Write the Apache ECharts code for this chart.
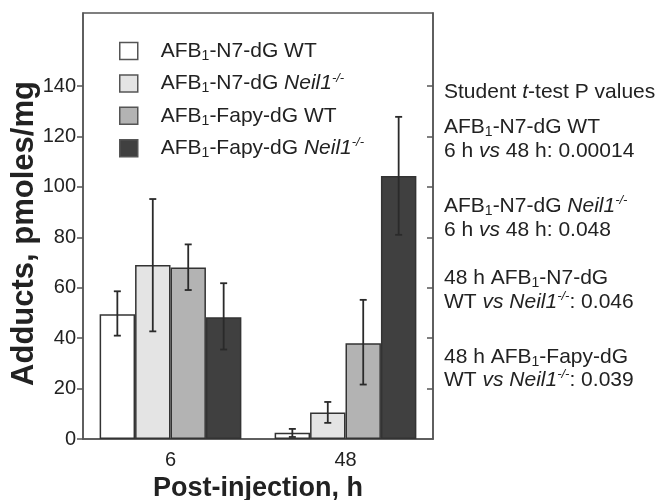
<!DOCTYPE html>
<html>
<head>
<meta charset="utf-8">
<script src="https://cdn.jsdelivr.net/npm/echarts@6/dist/echarts.min.js"></script>
<style>html,body{margin:0;padding:0;background:#fff}#c{width:662px;height:500px}</style>
</head>
<body>
<div id="c"></div>
<script>
// ---- data ----
const categories = ['6', '48'];
const seriesNames = ['AFB1-N7-dG WT', 'AFB1-N7-dG Neil1-/-', 'AFB1-Fapy-dG WT', 'AFB1-Fapy-dG Neil1-/-'];
const n7WT      = [49.5, 2.5];
const n7Neil    = [69.0, 10.5];
const fapyWT    = [68.0, 38.0];
const fapyNeil  = [48.3, 104.3];
const errLow  = [[41.0, 0.8], [42.7, 6.4], [59.1, 21.6], [35.5, 81.0]];
const errHigh = [[58.6, 4.0], [95.2, 14.7], [77.2, 55.2], [61.8, 127.8]];
const yTickValues = [0, 20, 40, 60, 80, 100, 120, 140];
const pValueLines = [
  'Student {it|t}-test P values',
  'AFB{sub|1}-N7-dG WT',
  '6 h {it|vs} 48 h: 0.00014',
  'AFB{sub|1}-N7-dG {it|Neil1}{sup|-/-}',
  '6 h {it|vs} 48 h: 0.048',
  '48 h AFB{sub|1}-N7-dG',
  'WT {it|vs} {it|Neil1}{sup|-/-}: 0.046',
  '48 h AFB{sub|1}-Fapy-dG',
  'WT {it|vs} {it|Neil1}{sup|-/-}: 0.039'
];

const values = [n7WT, n7Neil, fapyWT, fapyNeil];
const fills = ['#ffffff', '#e4e4e4', '#b3b3b3', '#404040'];
const FONT = '"Liberation Sans", Arial, sans-serif';
const legendLabels = {
  'AFB1-N7-dG WT': 'AFB{sub|1}-N7-dG WT',
  'AFB1-N7-dG Neil1-/-': 'AFB{sub|1}-N7-dG {it|Neil1}{sup|-/-}',
  'AFB1-Fapy-dG WT': 'AFB{sub|1}-Fapy-dG WT',
  'AFB1-Fapy-dG Neil1-/-': 'AFB{sub|1}-Fapy-dG {it|Neil1}{sup|-/-}'
};
const CAT_GAP = 0.19;
const pLineY = [92.5, 127.5, 151, 206, 230, 278.5, 302, 357, 380];

function richStyles(size) {
  return {
    sub: {fontSize: Math.round(size * 0.65), lineHeight: Math.round(size * 0.65), verticalAlign: 'bottom', fontFamily: FONT, color: '#222'},
    sup: {fontSize: Math.round(size * 0.6), lineHeight: Math.round(size * 0.6), verticalAlign: 'top', fontStyle: 'italic', fontFamily: FONT, color: '#222'},
    it: {fontSize: size, fontStyle: 'italic', fontFamily: FONT, color: '#222', lineHeight: size + 3}
  };
}

const errData = [];
for (let s = 0; s < 4; s++) {
  for (let c = 0; c < categories.length; c++) {
    errData.push([c, s, errLow[s][c], errHigh[s][c]]);
  }
}

const series = seriesNames.map((name, i) => ({
  name: name,
  type: 'bar',
  data: values[i],
  barGap: '0%',
  barCategoryGap: (CAT_GAP * 100) + '%',
  itemStyle: {color: fills[i], borderColor: '#333', borderWidth: 1.5},
  emphasis: {disabled: true}
}));

series.push({
  type: 'custom',
  name: 'err',
  z: 10,
  data: errData,
  encode: {x: 0, y: [2, 3]},
  renderItem: function (params, api) {
    const c = api.value(0), s = api.value(1);
    const lo = api.coord([c, api.value(2)]);
    const hi = api.coord([c, api.value(3)]);
    const band = api.size([1, 0])[0];
    const bw = band * (1 - CAT_GAP) / 4;
    const x = lo[0] + (s - 1.5) * bw;
    const cap = 3.5;
    const st = {stroke: '#2a2a2a', lineWidth: 1.8};
    return {
      type: 'group',
      children: [
        {type: 'line', shape: {x1: x, y1: lo[1], x2: x, y2: hi[1]}, style: st},
        {type: 'line', shape: {x1: x - cap, y1: lo[1], x2: x + cap, y2: lo[1]}, style: st},
        {type: 'line', shape: {x1: x - cap, y1: hi[1], x2: x + cap, y2: hi[1]}, style: st}
      ]
    };
  }
});

const graphics = pValueLines.map((t, i) => ({
  type: 'text',
  x: 444, y: pLineY[i],
  silent: true,
  style: {
    text: t,
    fontFamily: FONT, fontSize: 21, lineHeight: 24, fill: '#222',
    verticalAlign: 'middle', align: 'left',
    rich: richStyles(21)
  }
}));
graphics.push({
  type: 'text',
  x: 24, y: 233.5,
  rotation: Math.PI / 2,
  silent: true,
  style: {
    text: 'Adducts, pmoles/mg',
    fontFamily: FONT, fontSize: 31, fontWeight: 'bold', fill: '#222',
    align: 'center', verticalAlign: 'middle'
  }
});

const chart = echarts.init(document.getElementById('c'), null, {renderer: 'canvas'});
chart.setOption({
  backgroundColor: '#fff',
  animation: false,
  grid: {left: 83, right: 229, top: 13, bottom: 61, containLabel: false, outerBoundsMode: 'none', show: true, borderColor: '#555', borderWidth: 1.5, backgroundColor: 'transparent'},
  legend: {
    orient: 'vertical',
    left: 119, top: 39, padding: 0,
    itemWidth: 18, itemHeight: 17, itemGap: 8.4,
    icon: 'rect',
    data: seriesNames,
    selectedMode: false,
    itemStyle: {borderColor: '#555', borderWidth: 1.5},
    formatter: name => legendLabels[name],
    textStyle: {fontFamily: FONT, fontSize: 21, color: '#222', lineHeight: 24, padding: [0, 0, 0, 18], rich: richStyles(21)}
  },
  xAxis: {
    type: 'category',
    data: categories,
    name: 'Post-injection, h',
    nameLocation: 'middle',
    nameGap: 27,
    nameTextStyle: {fontFamily: FONT, fontSize: 27, fontWeight: 'bold', color: '#222'},
    axisLine: {show: true, lineStyle: {color: '#555', width: 1.5}},
    axisTick: {show: false},
    axisLabel: {fontFamily: FONT, fontSize: 20, color: '#222', margin: 11}
  },
  yAxis: [{
    type: 'value',
    min: 0, max: 169, interval: 20,
    axisLine: {show: true, lineStyle: {color: '#555', width: 1.5}},
    axisTick: {show: true, inside: false, length: 6, customValues: yTickValues, lineStyle: {color: '#555', width: 1.5}},
    axisLabel: {fontFamily: FONT, fontSize: 20, color: '#222', margin: 7, customValues: yTickValues},
    splitLine: {show: false}
  }, {
    type: 'value',
    position: 'right',
    min: 0, max: 169, interval: 20,
    axisLine: {show: true, lineStyle: {color: '#555', width: 1.5}},
    axisTick: {show: true, inside: true, length: 6, customValues: yTickValues.slice(1), lineStyle: {color: '#555', width: 1.5}},
    axisLabel: {show: false},
    splitLine: {show: false}
  }],
  graphic: graphics,
  series: series
});
</script>
</body>
</html>
